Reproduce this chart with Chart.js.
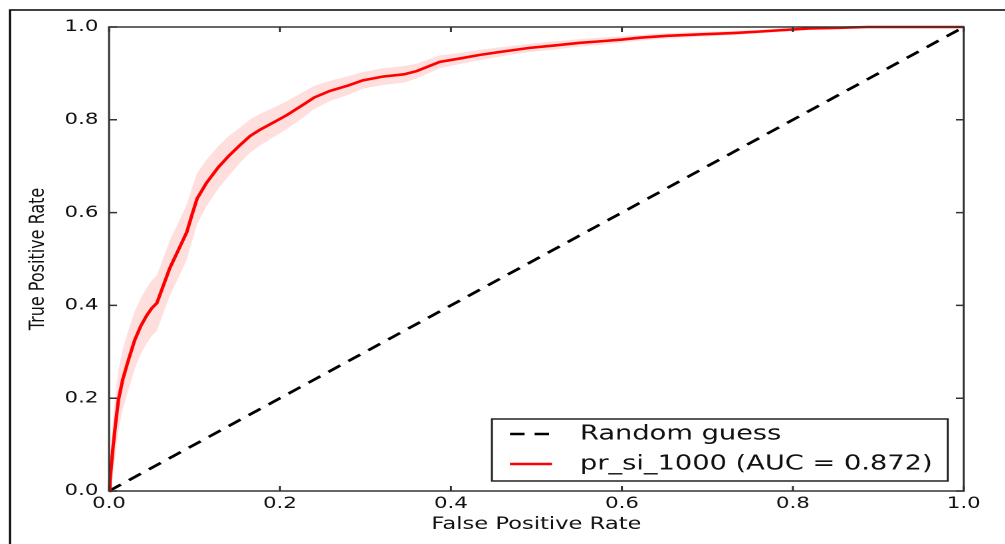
<!DOCTYPE html>
<html lang="en">
<head>
<meta charset="utf-8">
<title>ROC curve</title>
<style>
  html, body { margin: 0; padding: 0; background: #fff; overflow: hidden; }
  #wrap { width: 1005px; height: 544px; overflow: hidden; }
  /* the reference is a matplotlib figure stretched sideways: draw it narrow, then widen */
  #roc { transform: scaleX(1.3294); transform-origin: 0 0; }
</style>
</head>
<body>
<div id="wrap"><canvas id="roc" width="756" height="544"></canvas></div>

<script src="https://cdn.jsdelivr.net/npm/chart.js@4/dist/chart.umd.min.js"></script>
<script>
// mean ROC curve and its spread
var fpr      = [0, 0.001, 0.003, 0.005, 0.008, 0.011, 0.016, 0.022, 0.030, 0.037, 0.044, 0.050, 0.056, 0.063, 0.071, 0.080, 0.091, 0.097, 0.103, 0.114, 0.128, 0.140, 0.153, 0.165, 0.177, 0.190, 0.208, 0.225, 0.240, 0.258, 0.280, 0.297, 0.320, 0.345, 0.360, 0.387, 0.410, 0.434, 0.460, 0.492, 0.520, 0.551, 0.574, 0.600, 0.621, 0.653, 0.690, 0.730, 0.760, 0.785, 0.820, 0.850, 0.887, 1.0];
var tpr      = [0, 0.020, 0.060, 0.100, 0.150, 0.196, 0.240, 0.278, 0.325, 0.355, 0.378, 0.394, 0.405, 0.440, 0.480, 0.515, 0.558, 0.595, 0.630, 0.664, 0.698, 0.722, 0.745, 0.765, 0.779, 0.792, 0.810, 0.830, 0.848, 0.862, 0.874, 0.885, 0.893, 0.898, 0.905, 0.925, 0.932, 0.940, 0.947, 0.955, 0.960, 0.966, 0.969, 0.973, 0.977, 0.981, 0.984, 0.987, 0.990, 0.993, 0.997, 0.998, 1.0, 1.0];
var tprUpper = [0, 0.060, 0.115, 0.160, 0.215, 0.261, 0.305, 0.343, 0.387, 0.415, 0.438, 0.454, 0.465, 0.500, 0.540, 0.575, 0.618, 0.653, 0.685, 0.714, 0.744, 0.765, 0.783, 0.801, 0.813, 0.824, 0.840, 0.858, 0.873, 0.884, 0.894, 0.903, 0.911, 0.916, 0.921, 0.939, 0.944, 0.951, 0.957, 0.964, 0.969, 0.974, 0.977, 0.980, 0.983, 0.987, 0.989, 0.992, 0.994, 0.997, 1.0, 1.0, 1.0, 1.0];
var tprLower = [0, 0, 0.005, 0.040, 0.085, 0.131, 0.175, 0.213, 0.263, 0.295, 0.318, 0.334, 0.345, 0.380, 0.420, 0.455, 0.498, 0.537, 0.575, 0.614, 0.652, 0.679, 0.707, 0.729, 0.745, 0.760, 0.780, 0.802, 0.823, 0.840, 0.854, 0.867, 0.875, 0.880, 0.889, 0.911, 0.920, 0.929, 0.937, 0.946, 0.951, 0.958, 0.961, 0.966, 0.971, 0.975, 0.979, 0.982, 0.986, 0.989, 0.994, 0.996, 1.0, 1.0];

// chance line
var guessX = [0, 1];
var guessY = [0, 1];

var tickValues = [0, 0.2, 0.4, 0.6, 0.8, 1.0];
var seriesLabels = ['Random guess', 'pr_si_1000 (AUC = 0.872)'];

function pts(xs, ys) {
  return xs.map(function (x, i) { return { x: x, y: ys[i] }; });
}

Chart.defaults.font.family = "'DejaVu Sans', sans-serif";
Chart.defaults.color = '#111';

var framePlugin = {
  id: 'frame',
  beforeDraw: function (chart) {
    var ctx = chart.ctx;
    ctx.save();
    ctx.strokeStyle = '#000';
    ctx.lineWidth = 1.6;
    ctx.beginPath();
    ctx.moveTo(7.5, chart.height);
    ctx.lineTo(7.5, 10);
    ctx.lineTo(chart.width, 10);
    ctx.stroke();
    ctx.restore();
  },
  afterDatasetsDraw: function (chart) {
    var a = chart.chartArea, ctx = chart.ctx;
    var xs = chart.scales.x, ys = chart.scales.y;
    ctx.save();
    ctx.strokeStyle = '#333';
    ctx.lineWidth = 1.5;
    ctx.strokeRect(a.left, a.top, a.right - a.left, a.bottom - a.top);
    // inward ticks on all four sides
    ctx.beginPath();
    tickValues.forEach(function (v) {
      var px = xs.getPixelForValue(v), py = ys.getPixelForValue(v);
      ctx.moveTo(px, a.bottom); ctx.lineTo(px, a.bottom - 5);
      ctx.moveTo(px, a.top);    ctx.lineTo(px, a.top + 5);
      ctx.moveTo(a.left, py);   ctx.lineTo(a.left + 6, py);
      ctx.moveTo(a.right, py);  ctx.lineTo(a.right - 6, py);
    });
    ctx.stroke();
    ctx.restore();
  },
  afterDraw: function (chart) {
    var ctx = chart.ctx;
    var ds = chart.data.datasets;
    var guess = ds[3], roc = ds[2];
    ctx.save();
    ctx.fillStyle = '#fff';
    ctx.strokeStyle = '#222';
    ctx.lineWidth = 1.5;
    ctx.fillRect(370, 419, 343, 62);
    ctx.strokeRect(370, 419, 343, 62);

    ctx.lineWidth = 2.6;
    ctx.strokeStyle = guess.borderColor;
    ctx.setLineDash(guess.borderDash);
    ctx.beginPath(); ctx.moveTo(383.6, 434); ctx.lineTo(413, 434); ctx.stroke();
    ctx.setLineDash([]);
    ctx.strokeStyle = roc.borderColor;
    ctx.beginPath(); ctx.moveTo(383.6, 464); ctx.lineTo(415.2, 464); ctx.stroke();

    ctx.fillStyle = '#111';
    ctx.font = "20.5px 'DejaVu Sans', sans-serif";
    ctx.textBaseline = 'middle';
    ctx.fillText(guess.label, 436.3, 434);
    ctx.fillText(roc.label, 436.3, 464);
    ctx.restore();
  }
};

function setTicks(scale) {
  scale.ticks = tickValues.map(function (v) { return { value: v }; });
}

new Chart(document.getElementById('roc'), {
  type: 'line',
  data: {
    datasets: [
      {
        label: 'lower',
        data: pts(fpr, tprLower),
        borderWidth: 0,
        pointRadius: 0,
        fill: false
      },
      {
        label: 'upper',
        data: pts(fpr, tprUpper),
        borderWidth: 0,
        pointRadius: 0,
        backgroundColor: 'rgba(255, 0, 0, 0.13)',
        fill: '-1'
      },
      {
        label: seriesLabels[1],
        data: pts(fpr, tpr),
        borderColor: '#ff0000',
        borderWidth: 2.6,
        pointRadius: 0,
        tension: 0,
        clip: 4,
        fill: false
      },
      {
        label: seriesLabels[0],
        data: pts(guessX, guessY),
        borderColor: '#000',
        borderWidth: 2.6,
        borderDash: [11, 7.5],
        pointRadius: 0,
        clip: 4,
        fill: false
      }
    ]
  },
  options: {
    responsive: false,
    animation: false,
    devicePixelRatio: 2,
    layout: { padding: { left: 0, top: 27, right: 31, bottom: 0 } },
    plugins: {
      legend: { display: false },
      tooltip: { enabled: false }
    },
    scales: {
      x: {
        type: 'linear',
        min: 0,
        max: 1,
        afterBuildTicks: setTicks,
        afterFit: function (scale) { scale.height = 53; },
        grid: { display: false, drawTicks: false },
        border: { display: false },
        ticks: {
          padding: 3,
          font: { size: 16 },
          color: '#111',
          maxRotation: 0,
          callback: function (v) { return Number(v).toFixed(1); }
        },
        title: {
          display: true,
          text: 'False Positive Rate',
          font: { size: 17 },
          color: '#111',
          padding: { top: 0, bottom: 9 }
        }
      },
      y: {
        min: 0,
        max: 1,
        afterBuildTicks: setTicks,
        afterFit: function (scale) { scale.width = 82; },
        grid: { display: false, drawTicks: false },
        border: { display: false },
        ticks: {
          padding: 8,
          font: { size: 16 },
          color: '#111',
          callback: function (v) { return Number(v).toFixed(1); }
        },
        title: {
          display: true,
          text: 'True Positive Rate',
          font: { size: 16 },
          color: '#111',
          padding: { top: 19, bottom: 0 }
        }
      }
    }
  },
  plugins: [framePlugin]
});
</script>
</body>
</html>
